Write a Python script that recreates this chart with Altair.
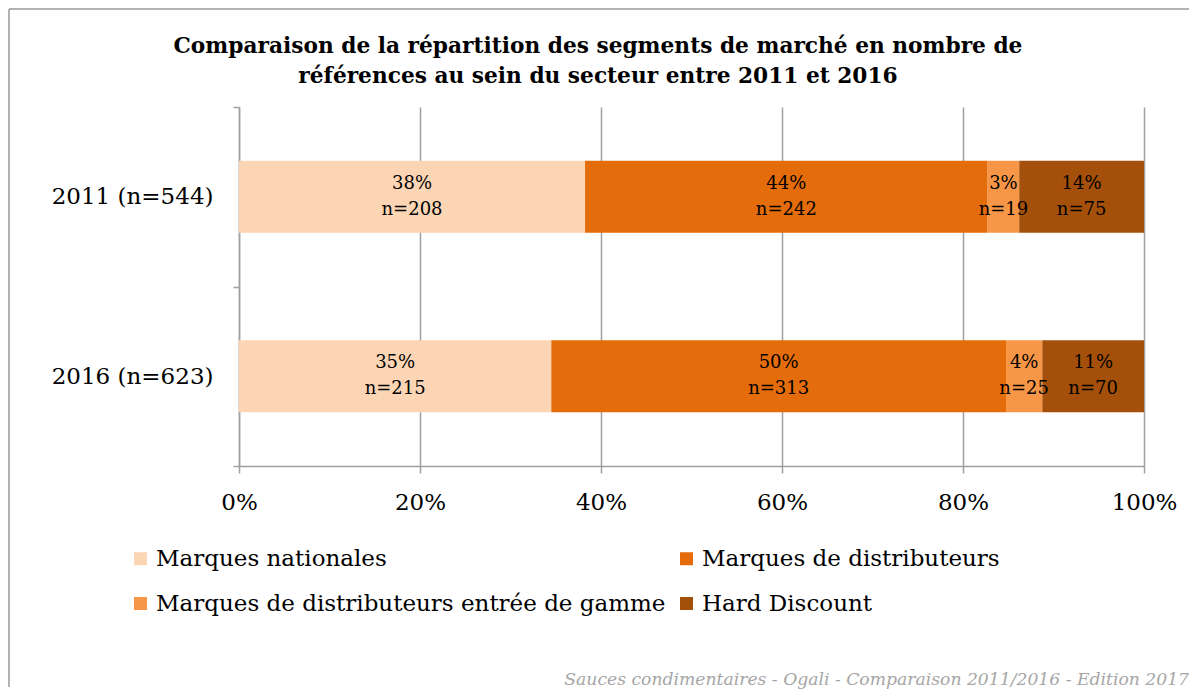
import altair as alt
import pandas as pd

# ---- data ----
years = ["2011 (n=544)", "2016 (n=623)"]
segments = [
    "Marques nationales",
    "Marques de distributeurs",
    "Marques de distributeurs entrée de gamme",
    "Hard Discount",
]
counts_2011 = [208, 242, 19, 75]
counts_2016 = [215, 313, 25, 70]
pct_2011 = ["38%", "44%", "3%", "14%"]
pct_2016 = ["35%", "50%", "4%", "11%"]
colors = ["#FCD5B5", "#E46C0A", "#F79646", "#A5500A"]
x_ticks = [0, 0.2, 0.4, 0.6, 0.8, 1.0]
title_lines = [
    "Comparaison de la répartition des segments de marché en nombre de",
    "références au sein du secteur entre 2011 et 2016",
]
footer = "Sauces condimentaires - Ogali - Comparaison 2011/2016 - Edition 2017"

FONT = "DejaVu Serif"
GRID = "#A0A0A0"

rows = []
for yr, cnts, pcts in [(years[0], counts_2011, pct_2011), (years[1], counts_2016, pct_2016)]:
    for i, (seg, c, p) in enumerate(zip(segments, cnts, pcts)):
        rows.append({"year": yr, "segment": seg, "order": i, "n": c,
                     "pct": p, "nlab": f"n={c}"})
df = pd.DataFrame(rows)

base = (
    alt.Chart(df)
    .transform_stack(stack="n", groupby=["year"], as_=["x0", "x1"],
                     offset="normalize", sort=[alt.SortField("order", "ascending")])
    .transform_calculate(mid="(datum.x0 + datum.x1) / 2")
)

y_scale = alt.Scale(paddingInner=0, paddingOuter=0)
y_enc = alt.Y(
    "year:N", sort=years, scale=y_scale,
    axis=alt.Axis(title=None, tickBand="extent", tickSize=6, tickColor=GRID,
                  tickWidth=1.5, domainColor=GRID, domainWidth=1.5,
                  labelFont=FONT, labelFontSize=23, labelColor="black",
                  labelPadding=20, labelLimit=400),
)

bars = base.mark_bar(height=alt.RelativeBandSize(0.4)).encode(
    x=alt.X("x0:Q", scale=alt.Scale(domain=[0, 1], nice=False),
            axis=alt.Axis(title=None, values=x_ticks, format="%", grid=True,
                          gridColor=GRID, gridWidth=1.5, tickColor=GRID,
                          tickWidth=1.5, tickSize=7, domainColor=GRID,
                          domainWidth=1.5, labelFont=FONT, labelFontSize=23,
                          labelColor="black", labelPadding=18, labelFlush=False)),
    x2="x1:Q",
    y=y_enc,
    color=alt.Color(
        "segment:N", sort=segments,
        scale=alt.Scale(domain=segments, range=colors),
        legend=alt.Legend(title=None, orient="none", legendX=-110, legendY=440,
                          columns=2, direction="horizontal",
                          symbolType="square", symbolSize=169,
                          symbolStrokeWidth=0, labelFont=FONT, labelFontSize=23,
                          labelColor="black", labelLimit=700, labelOffset=4,
                          rowPadding=21, columnPadding=9, padding=0),
    ),
)

lab1 = base.mark_text(font=FONT, fontSize=18, color="black", dy=-13).encode(
    x="mid:Q", y=alt.Y("year:N", sort=years, scale=y_scale), text="pct:N")
lab2 = base.mark_text(font=FONT, fontSize=18, color="black", dy=13).encode(
    x="mid:Q", y=alt.Y("year:N", sort=years, scale=y_scale), text="nlab:N")

one = pd.DataFrame({"k": [0]})
title1 = alt.Chart(one).mark_text(font=FONT, fontSize=21.7, fontWeight="bold",
                                   color="black", align="center", baseline="middle").encode(
    x=alt.value(359), y=alt.value(-61), text=alt.value(title_lines[0]))
title2 = alt.Chart(one).mark_text(font=FONT, fontSize=21.7, fontWeight="bold",
                                   color="black", align="center", baseline="middle").encode(
    x=alt.value(359), y=alt.value(-31), text=alt.value(title_lines[1]))
foot = alt.Chart(one).mark_text(font=FONT, fontSize=17.2, fontStyle="italic",
                                 color="#A6A6A6", align="right", baseline="middle").encode(
    x=alt.value(950), y=alt.value(573), text=alt.value(footer))
border_top = alt.Chart(one).mark_rule(color="#9A9A9A", strokeWidth=1.5).encode(
    x=alt.value(-230), x2=alt.value(950), y=alt.value(-98))
border_left = alt.Chart(one).mark_rule(color="#9A9A9A", strokeWidth=1.5).encode(
    x=alt.value(-230), y=alt.value(-98), y2=alt.value(580))

chart = (
    alt.layer(border_top, border_left, bars, lab1, lab2, title1, title2, foot)
    .properties(width=905, height=359, padding=0)
    .configure_view(stroke=None)
)

chart.save("out.html", embed_options={"renderer": "svg", "actions": False})
